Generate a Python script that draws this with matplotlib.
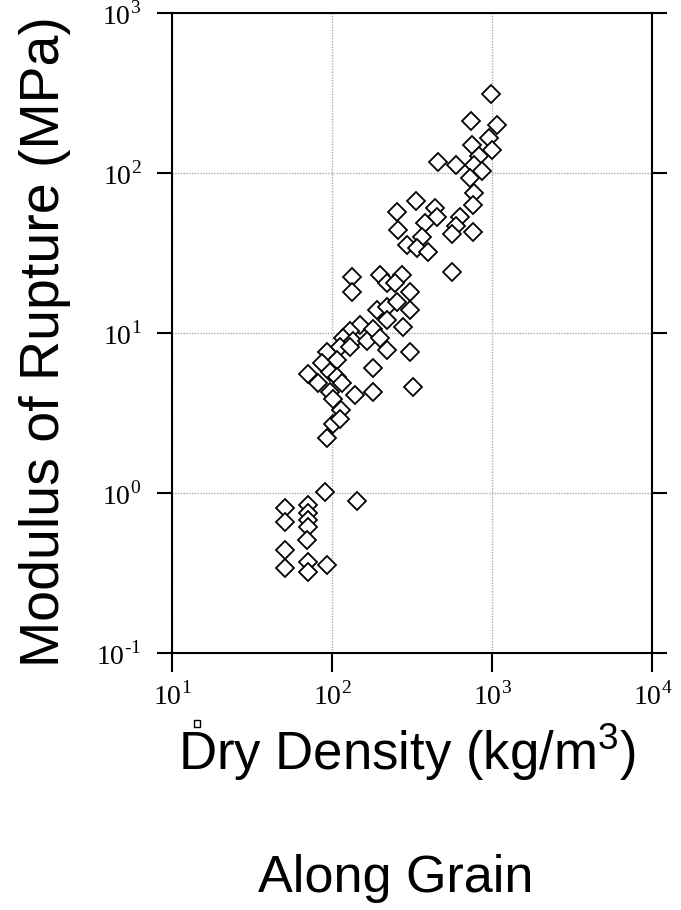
import matplotlib
matplotlib.use("Agg")
import matplotlib.pyplot as plt
from matplotlib.patches import Rectangle

plt.rcParams['mathtext.fontset'] = 'custom'
plt.rcParams['mathtext.rm'] = 'Liberation Serif'
plt.rcParams['mathtext.sf'] = 'Liberation Sans'
plt.rcParams['font.family'] = ['Liberation Sans', 'DejaVu Sans']

# dry density (kg/m3) and modulus of rupture (MPa)
density = [986, 739, 1074, 958, 750, 1000, 830, 460, 596, 772, 866, 729, 772, 761,
           335, 255, 441, 453, 631, 381, 596, 259, 562, 761, 365, 294, 340, 398,
           562, 133, 133, 200, 274, 221, 248, 307, 191, 221, 255, 307, 221, 278,
           150, 130, 180, 117, 135, 166, 200, 93, 112, 130, 221, 307, 87, 107,
           180, 97, 71, 82, 107, 115, 97, 101, 139, 180, 321, 114, 101, 112, 93,
           90, 143, 51, 51, 71, 71, 71, 71, 70, 51, 51, 71, 71, 93]
rupture = [312, 214, 202, 166, 150, 139, 128, 117, 112, 112, 104, 93, 75, 63,
           67, 57, 61, 53, 53, 49, 47, 44, 42, 43, 40, 35.5, 34, 32,
           24, 22.4, 18, 23, 23, 20.5, 20.5, 18, 13.9, 14.5, 15.6, 13.9, 12.1, 10.9,
           11.2, 10.4, 10.7, 9.4, 9.0, 9.0, 9.4, 7.6, 8.2, 8.2, 7.8, 7.6, 6.5, 6.8,
           6.1, 5.7, 5.6, 4.9, 5.3, 4.9, 4.3, 3.9, 4.1, 4.3, 4.6, 3.3, 2.7, 2.9, 2.2,
           1.01, 0.89, 0.81, 0.66, 0.84, 0.75, 0.68, 0.61, 0.51, 0.44, 0.34, 0.37, 0.32, 0.355]

xticks = [1e1, 1e2, 1e3, 1e4]
xticklabels = [r'$\mathrm{10}^{\mathrm{1}}$', r'$\mathrm{10}^{\mathrm{2}}$',
               r'$\mathrm{10}^{\mathrm{3}}$', r'$\mathrm{10}^{\mathrm{4}}$']
yticks = [1e-1, 1e0, 1e1, 1e2, 1e3]
yticklabels = [r'$\mathrm{10}^{\text{-1}}$', r'$\mathrm{10}^{\mathrm{0}}$',
               r'$\mathrm{10}^{\mathrm{1}}$', r'$\mathrm{10}^{\mathrm{2}}$',
               r'$\mathrm{10}^{\mathrm{3}}$']

fig = plt.figure(figsize=(6.81, 9.10), dpi=100)
ax = fig.add_axes([0.2526, 0.2824, 0.7055, 0.7028])

ax.plot(density, rupture, linestyle='none', marker='D', markersize=9.3,
        markerfacecolor='white', markeredgecolor='black', markeredgewidth=1.3)

ax.set_xscale('log')
ax.set_yscale('log')
ax.set_xlim(1e1, 1e4)
ax.set_ylim(1e-1, 1e3)
ax.minorticks_off()
ax.set_xticks(xticks)
ax.set_xticklabels(xticklabels, fontsize=20)
ax.set_yticks(yticks)
ax.set_yticklabels(yticklabels, fontsize=20)
ax.tick_params(axis='x', direction='out', length=14, width=1.5, pad=7)
ax.tick_params(axis='y', direction='out', length=11, width=1.5, pad=11,
               right=True)
ax.grid(True, color='#aaaaaa', linestyle=(0, (1, 1)), linewidth=1)
for s in ax.spines.values():
    s.set_linewidth(1.5)

fig.text(0.066, 0.625, 'Modulus of Rupture (MPa)', rotation=90,
         ha='center', va='center', fontsize=40)
fig.text(0.598, 0.1538, r'Dry Density (kg/m$^{\mathsf{3}}$)', ha='center',
         va='baseline', fontsize=38)
# little box glyph above the D, as in the source image
fig.add_artist(Rectangle((194 / 681, 1 - 727 / 910), 6 / 681, 7 / 910,
                         transform=fig.transFigure, facecolor='white',
                         edgecolor='black', linewidth=1))
fig.text(0.5815, 1 - 892 / 910, 'Along Grain', ha='center', va='baseline',
         fontsize=37.5)

fig.savefig('out.png', dpi=100)
